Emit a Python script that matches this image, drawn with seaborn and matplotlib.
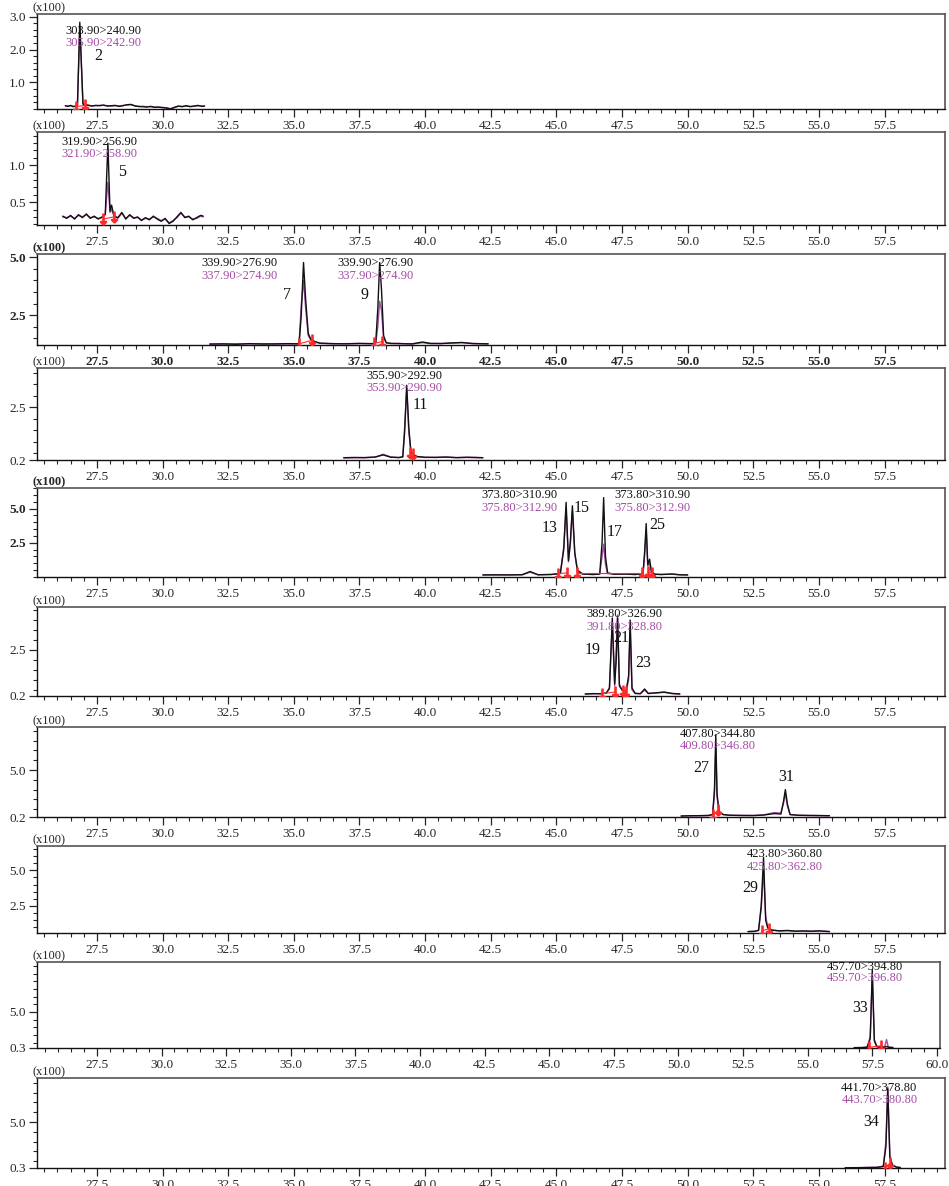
import pandas as pd
import matplotlib.pyplot as plt
from matplotlib.ticker import MultipleLocator, FixedLocator, FormatStrFormatter
import seaborn as sns

sns.set_style("ticks")
plt.rcParams['font.family'] = ['Liberation Serif', 'DejaVu Serif']

BLACK = "#111111"
PURPLE = "#a64ca6"
RED = "#ff2a2a"

# ---- data (time in min, intensity x100) ----
p1_t = [26.30, 26.40, 26.50, 26.60, 26.70, 26.76, 26.85, 26.97, 27.05, 27.15, 27.30, 27.45, 27.60, 27.75,
        27.90, 28.05, 28.20, 28.35, 28.50, 28.65, 28.80, 28.95, 29.10, 29.25, 29.40, 29.55, 29.70, 29.85,
        30.00, 30.15, 30.30, 30.45, 30.60, 30.75, 30.90, 31.05, 31.20, 31.35, 31.50, 31.60]
p1_black = [0.29, 0.27, 0.30, 0.26, 0.28, 0.30, 2.83, 0.34, 0.30, 0.31, 0.28, 0.30, 0.29, 0.31,
            0.28, 0.29, 0.30, 0.27, 0.29, 0.32, 0.33, 0.28, 0.27, 0.26, 0.25, 0.27, 0.24, 0.25,
            0.23, 0.22, 0.19, 0.24, 0.28, 0.26, 0.29, 0.26, 0.28, 0.30, 0.27, 0.28]
p1_purple = [0.28, 0.28, 0.29, 0.27, 0.27, 0.31, 2.70, 0.36, 0.31, 0.30, 0.29, 0.29, 0.30, 0.30,
             0.29, 0.28, 0.29, 0.28, 0.30, 0.31, 0.32, 0.29, 0.26, 0.27, 0.26, 0.26, 0.25, 0.24,
             0.24, 0.23, 0.20, 0.23, 0.27, 0.27, 0.28, 0.27, 0.27, 0.29, 0.28, 0.28]
p1_marks = [(26.70, 0.26), (27.05, 0.30)]

p2_t = [26.20, 26.35, 26.50, 26.65, 26.80, 26.95, 27.10, 27.25, 27.40, 27.55, 27.70, 27.82, 27.92,
        28.00, 28.06, 28.15, 28.30, 28.45, 28.60, 28.75, 28.90, 29.05, 29.20, 29.35, 29.50, 29.65,
        29.80, 29.95, 30.10, 30.25, 30.40, 30.55, 30.70, 30.85, 31.00, 31.15, 31.30, 31.45, 31.55]
p2_black = [0.31, 0.28, 0.32, 0.27, 0.33, 0.29, 0.34, 0.28, 0.31, 0.27, 0.30, 0.33, 1.30,
            0.38, 0.46, 0.31, 0.29, 0.36, 0.27, 0.33, 0.28, 0.30, 0.25, 0.29, 0.26, 0.31,
            0.27, 0.24, 0.28, 0.21, 0.24, 0.30, 0.36, 0.29, 0.31, 0.26, 0.29, 0.32, 0.31]
p2_purple = [0.30, 0.29, 0.31, 0.28, 0.32, 0.30, 0.33, 0.29, 0.30, 0.28, 0.29, 0.34, 0.77,
             0.36, 0.40, 0.32, 0.28, 0.35, 0.28, 0.32, 0.29, 0.29, 0.26, 0.28, 0.27, 0.30,
             0.28, 0.25, 0.27, 0.22, 0.25, 0.29, 0.35, 0.30, 0.30, 0.27, 0.28, 0.31, 0.30]
p2_marks = [(27.73, 0.27), (28.15, 0.30)]

p3_t = [31.80, 32.30, 32.80, 33.30, 33.80, 34.30, 34.80, 35.20, 35.28, 35.37, 35.45, 35.55, 35.65,
        35.80, 36.00, 36.50, 37.00, 37.50, 38.00, 38.12, 38.20, 38.27, 38.34, 38.42, 38.52, 38.70,
        39.00, 39.50, 39.90, 40.20, 40.60, 41.00, 41.40, 41.80, 42.40]
p3_black = [1.24, 1.25, 1.23, 1.26, 1.24, 1.25, 1.26, 1.25, 2.40, 4.78, 3.20, 1.70, 1.45,
            1.35, 1.28, 1.26, 1.25, 1.27, 1.26, 1.30, 2.80, 4.78, 3.60, 1.60, 1.30, 1.27,
            1.26, 1.25, 1.33, 1.27, 1.26, 1.29, 1.31, 1.26, 1.25]
p3_purple = [1.24, 1.24, 1.25, 1.25, 1.26, 1.24, 1.25, 1.25, 2.90, 4.00, 2.80, 1.60, 1.42,
             1.33, 1.27, 1.25, 1.26, 1.26, 1.25, 1.29, 2.00, 3.10, 2.70, 1.50, 1.29, 1.26,
             1.27, 1.24, 1.30, 1.26, 1.27, 1.28, 1.30, 1.27, 1.25]
p3_marks = [(35.20, 1.25), (35.68, 1.40), (38.05, 1.27), (38.37, 1.35)]

p4_t = [36.90, 37.30, 37.70, 38.10, 38.40, 38.70, 39.00, 39.15, 39.22, 39.30, 39.38, 39.46, 39.55,
        39.70, 40.00, 40.40, 40.80, 41.20, 41.60, 42.00, 42.20]
p4_black = [0.30, 0.31, 0.30, 0.33, 0.42, 0.32, 0.31, 0.34, 1.40, 3.45, 1.60, 0.55, 0.42,
            0.35, 0.32, 0.31, 0.33, 0.30, 0.32, 0.31, 0.30]
p4_purple = [0.29, 0.30, 0.31, 0.32, 0.45, 0.33, 0.30, 0.33, 1.60, 3.30, 1.40, 0.60, 0.45,
             0.34, 0.31, 0.32, 0.32, 0.31, 0.31, 0.30, 0.30]
p4_marks = [(39.42, 0.50), (39.55, 0.45)]

p5_t = [42.20, 42.70, 43.20, 43.70, 44.00, 44.30, 44.80, 45.15, 45.28, 45.37, 45.46, 45.53, 45.61,
        45.70, 45.80, 46.00, 46.40, 46.65, 46.74, 46.80, 46.87, 46.95, 47.20, 47.60, 48.00, 48.30,
        48.36, 48.42, 48.48, 48.55, 48.62, 48.75, 49.00, 49.40, 49.70, 50.00]
p5_black = [0.15, 0.16, 0.15, 0.17, 0.40, 0.16, 0.18, 0.25, 2.00, 5.45, 1.20, 2.50, 5.20,
            1.80, 0.50, 0.22, 0.18, 0.22, 2.50, 5.80, 1.50, 0.30, 0.20, 0.22, 0.18, 0.25,
            1.80, 3.90, 0.90, 1.30, 0.40, 0.20, 0.18, 0.22, 0.16, 0.15]
p5_purple = [0.15, 0.15, 0.16, 0.16, 0.35, 0.17, 0.19, 0.26, 2.20, 5.00, 1.10, 2.40, 4.80,
             1.70, 0.45, 0.20, 0.19, 0.20, 1.50, 2.40, 0.90, 0.25, 0.21, 0.20, 0.19, 0.24,
             1.60, 3.40, 0.80, 1.00, 0.35, 0.20, 0.19, 0.20, 0.17, 0.15]
p5_marks = [(45.05, 0.25), (45.42, 0.30), (45.78, 0.30), (48.25, 0.30), (48.48, 0.35), (48.66, 0.30)]

p6_t = [46.10, 46.40, 46.70, 46.90, 47.02, 47.13, 47.22, 47.28, 47.33, 47.40, 47.50, 47.65, 47.75,
        47.81, 47.88, 48.00, 48.20, 48.36, 48.50, 48.80, 49.10, 49.40, 49.70]
p6_black = [0.30, 0.32, 0.31, 0.35, 0.60, 4.10, 0.80, 2.00, 4.10, 0.70, 0.50, 0.40, 1.20,
            4.00, 0.60, 0.33, 0.32, 0.55, 0.33, 0.36, 0.40, 0.33, 0.30]
p6_purple = [0.30, 0.31, 0.32, 0.34, 0.55, 3.80, 0.70, 2.60, 4.25, 0.80, 0.50, 0.40, 1.00,
             3.60, 0.50, 0.33, 0.31, 0.50, 0.32, 0.35, 0.38, 0.32, 0.30]
p6_marks = [(46.75, 0.32), (47.25, 0.40), (47.52, 0.45), (47.65, 0.40)]

p7_t = [49.75, 50.10, 50.50, 50.80, 50.95, 51.02, 51.07, 51.12, 51.20, 51.35, 51.60, 52.00, 52.50,
        52.90, 53.30, 53.55, 53.65, 53.72, 53.80, 53.90, 54.20, 54.60, 55.00, 55.40]
p7_black = [0.30, 0.33, 0.34, 0.36, 0.45, 3.00, 8.60, 2.50, 0.70, 0.45, 0.38, 0.36, 0.35,
            0.40, 0.55, 0.50, 1.80, 3.00, 1.50, 0.45, 0.38, 0.36, 0.35, 0.33]
p7_purple = [0.30, 0.32, 0.33, 0.35, 0.45, 2.50, 7.20, 2.20, 0.80, 0.45, 0.37, 0.36, 0.35,
             0.42, 0.65, 0.60, 1.60, 2.60, 1.30, 0.45, 0.37, 0.35, 0.34, 0.33]
p7_marks = [(50.98, 0.40), (51.15, 0.90)]

p8_t = [52.30, 52.55, 52.70, 52.80, 52.89, 52.97, 53.05, 53.20, 53.50, 53.80, 54.10, 54.40, 54.70,
        55.00, 55.40]
p8_black = [0.70, 0.72, 0.78, 2.50, 5.90, 1.50, 0.95, 0.80, 0.75, 0.78, 0.73, 0.74, 0.72, 0.75, 0.70]
p8_purple = [0.70, 0.71, 0.80, 2.30, 5.00, 1.80, 1.00, 0.82, 0.74, 0.76, 0.72, 0.75, 0.73, 0.74, 0.70]
p8_marks = [(52.82, 0.75), (53.10, 0.90)]

p9_t = [56.80, 57.10, 57.30, 57.42, 57.50, 57.58, 57.68, 57.85, 57.98, 58.05, 58.12, 58.30]
p9_black = [0.35, 0.36, 0.40, 1.50, 10.50, 1.20, 0.45, 0.40, 0.42, 0.50, 0.40, 0.36]
p9_purple = [0.34, 0.35, 0.42, 1.80, 9.60, 1.40, 0.50, 0.42, 0.45, 1.40, 0.42, 0.35]
p9_marks = [(57.37, 0.38), (57.85, 0.60)]

p10_t = [56.00, 56.50, 56.90, 57.20, 57.45, 57.55, 57.62, 57.70, 57.80, 57.95, 58.10]
p10_black = [0.32, 0.33, 0.35, 0.36, 0.45, 2.50, 8.40, 1.50, 0.60, 0.40, 0.35]
p10_purple = [0.33, 0.34, 0.36, 0.37, 0.50, 3.00, 8.60, 1.30, 0.55, 0.38, 0.34]
p10_marks = [(57.50, 0.35), (57.72, 0.80)]

transitions = [("303.90>240.90", "305.90>242.90"), ("319.90>256.90", "321.90>258.90"),
               ("339.90>276.90", "337.90>274.90"), ("355.90>292.90", "353.90>290.90"),
               ("373.80>310.90", "375.80>312.90"), ("389.80>326.90", "391.80>328.80"),
               ("407.80>344.80", "409.80>346.80"), ("423.80>360.80", "425.80>362.80"),
               ("457.70>394.80", "459.70>396.80"), ("441.70>378.80", "443.70>380.80")]

x_ticks = [27.5, 30.0, 32.5, 35.0, 37.5, 40.0, 42.5, 45.0, 47.5, 50.0, 52.5, 55.0, 57.5]

# ---- layout of each panel (pixels) and its axis settings ----
panels = [
    dict(t=p1_t, k=p1_black, p=p1_purple, m=p1_marks, top=14, bot=109, ylim=(0.19, 3.08),
         yt=[1.0, 2.0, 3.0], ym=0.2, lab=[(27.73, 0)], ly=(0.82, 0.69),
         num=[("2", 27.55, 0.56)]),
    dict(t=p2_t, k=p2_black, p=p2_purple, m=p2_marks, top=132, bot=225, ylim=(0.19, 1.45),
         yt=[0.5, 1.0], ym=0.1, lab=[(27.61, 1)], ly=(0.89, 0.76),
         num=[("5", 28.45, 0.57)]),
    dict(t=p3_t, k=p3_black, p=p3_purple, m=p3_marks, top=254, bot=345, ylim=(1.2, 5.15),
         yt=[2.5, 5.0], ym=0.5, lab=[(32.94, 2), (38.12, 2)], ly=(0.90, 0.76),
         num=[("7", 34.73, 0.55), ("9", 37.70, 0.55)], bold=True),
    dict(t=p4_t, k=p4_black, p=p4_purple, m=p4_marks, top=368, bot=460, ylim=(0.2, 4.2),
         yt=[0.2, 2.5], ym=0.5, lab=[(39.22, 3)], ly=(0.91, 0.78),
         num=[("11", 39.80, 0.60)]),
    dict(t=p5_t, k=p5_black, p=p5_purple, m=p5_marks, top=488, bot=577, ylim=(0.0, 6.5),
         yt=[2.5, 5.0], ym=0.5, lab=[(43.60, 4), (48.67, 4)], ly=(0.92, 0.78),
         num=[("13", 44.74, 0.55), ("15", 45.96, 0.78), ("17", 47.22, 0.51), ("25", 48.86, 0.58)],
         boldy=True),
    dict(t=p6_t, k=p6_black, p=p6_purple, m=p6_marks, top=607, bot=696, ylim=(0.2, 4.65),
         yt=[0.2, 2.5], ym=0.5, lab=[(47.60, 5)], ly=(0.92, 0.78),
         num=[("19", 46.38, 0.52), ("21", 47.48, 0.65), ("23", 48.32, 0.37)]),
    dict(t=p7_t, k=p7_black, p=p7_purple, m=p7_marks, top=727, bot=817, ylim=(0.2, 9.4),
         yt=[0.2, 5.0], ym=1.0, lab=[(51.14, 6)], ly=(0.92, 0.79),
         num=[("27", 50.53, 0.54), ("31", 53.77, 0.44)]),
    dict(t=p8_t, k=p8_black, p=p8_purple, m=p8_marks, top=846, bot=933, ylim=(0.6, 6.7),
         yt=[2.5, 5.0], ym=0.5, lab=[(53.69, 7)], ly=(0.91, 0.76),
         num=[("29", 52.39, 0.52)]),
    dict(t=p9_t, k=p9_black, p=p9_purple, m=p9_marks, top=962, bot=1048, ylim=(0.3, 11.5),
         yt=[0.3, 5.0], ym=1.0, lab=[(57.22, 8)], ly=(0.94, 0.81),
         num=[("33", 57.03, 0.47)], xlim=(25.18, 60.12), right=940, xextra=[60.0]),
    dict(t=p10_t, k=p10_black, p=p10_purple, m=p10_marks, top=1078, bot=1168, ylim=(0.3, 9.5),
         yt=[0.3, 5.0], ym=1.0, lab=[(57.30, 9)], ly=(0.89, 0.76),
         num=[("34", 57.00, 0.51)]),
]

W, H = 949, 1186
fig = plt.figure(figsize=(W / 100, H / 100), dpi=100)

for cfg in panels:
    left, right = 37, cfg.get("right", 945)
    ax = fig.add_axes([left / W, 1 - cfg["bot"] / H, (right - left) / W, (cfg["bot"] - cfg["top"]) / H])
    n = len(cfg["t"])
    df = pd.DataFrame({"t": cfg["t"] * 2, "y": cfg["p"] + cfg["k"],
                       "trace": ["purple"] * n + ["black"] * n})
    sns.lineplot(data=df, x="t", y="y", hue="trace", hue_order=["purple", "black"],
                 palette={"purple": PURPLE, "black": BLACK}, estimator=None, sort=False,
                 legend=False, linewidth=1.0, ax=ax)

    # peak start/end marks with red baseline
    marks = cfg["m"]
    for i in range(0, len(marks), 2):
        seg = marks[i:i + 2]
        ax.plot([s[0] for s in seg], [s[1] for s in seg], color=RED, lw=0.8)
        ax.scatter([s[0] for s in seg], [s[1] for s in seg], marker=r"$\downarrow$", s=60,
                   color=RED, zorder=5)

    ax.set_xlim(*cfg.get("xlim", (25.22, 59.8)))
    ax.set_ylim(*cfg["ylim"])
    ax.set_xlabel("")
    ax.set_ylabel("")
    ax.xaxis.set_major_locator(FixedLocator(x_ticks + cfg.get("xextra", [])))
    ax.xaxis.set_minor_locator(MultipleLocator(0.5))
    ax.xaxis.set_major_formatter(FormatStrFormatter("%.1f"))
    ax.yaxis.set_major_locator(FixedLocator(cfg["yt"]))
    ax.yaxis.set_minor_locator(MultipleLocator(cfg["ym"]))
    ax.yaxis.set_major_formatter(FormatStrFormatter("%.1f"))
    ax.tick_params(which="major", direction="out", length=6, width=0.9, labelsize=9.5, pad=2)
    ax.tick_params(which="minor", direction="out", length=3, width=0.8)
    for side in ["top", "right"]:
        ax.spines[side].set_color("#555555")
        ax.spines[side].set_linewidth(1.2)
    for side in ["left", "bottom"]:
        ax.spines[side].set_color(BLACK)
        ax.spines[side].set_linewidth(1.0)

    bold = cfg.get("bold", False)
    if bold:
        for lbl in ax.get_xticklabels() + ax.get_yticklabels():
            lbl.set_fontweight("bold")
    if cfg.get("boldy", False):
        for lbl in ax.get_yticklabels():
            lbl.set_fontweight("bold")
    ax.text(-0.0055, 1.0, "(x100)", transform=ax.transAxes, ha="left", va="bottom", fontsize=9,
            fontweight="bold" if (bold or cfg.get("boldy", False)) else "normal")

    trans = ax.get_xaxis_transform()
    for lx, idx in cfg["lab"]:
        ax.text(lx, cfg["ly"][0], transitions[idx][0], transform=trans, ha="center", va="center",
                fontsize=9, color=BLACK)
        ax.text(lx, cfg["ly"][1], transitions[idx][1], transform=trans, ha="center", va="center",
                fontsize=9, color=PURPLE)
    for txt, nx, ny in cfg["num"]:
        ax.text(nx, ny, txt, transform=trans, ha="center", va="center", fontsize=11.5, color=BLACK)

fig.savefig("out.png", dpi=100)
